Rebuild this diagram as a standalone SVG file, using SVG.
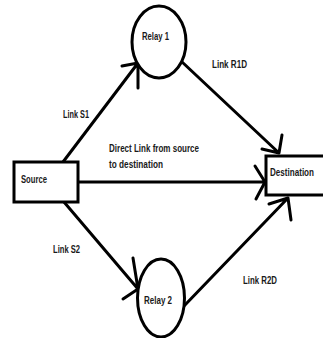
<svg xmlns="http://www.w3.org/2000/svg" width="323" height="338" viewBox="0 0 323 338">
<style>
.shape{fill:#fff;stroke:#000;stroke-width:3}
.edge{fill:none;stroke:#000;stroke-width:3;stroke-linecap:round;stroke-linejoin:round}
text{font-family:"Liberation Sans",Arial,sans-serif;font-size:11px;font-weight:bold;fill:#1a1a1a}
</style>
<rect width="323" height="338" fill="#fff"/>
<g id="connectors">
<path class="edge" d="M63,162 L138,63 M122,66 L138,63 L138,88"/>
<path class="edge" d="M181,61 L279,153 M262,149 L279,153 L282,135"/>
<path class="edge" d="M78,182 L265,182 M255,166 L265,182 L256,199"/>
<path class="edge" d="M64,202 L138,289 M133,258 L138,289 L123,299"/>
<path class="edge" d="M184,306 L288,198 M269,204 L288,198 L291,220"/>
</g>
<g id="source">
<rect class="shape" x="14" y="162" width="64" height="40"/>
<text x="21" y="183" textLength="26" lengthAdjust="spacingAndGlyphs">Source</text>
</g>
<g id="destination">
<rect class="shape" x="266" y="156" width="66" height="39"/>
<text x="270" y="176" textLength="44" lengthAdjust="spacingAndGlyphs">Destination</text>
</g>
<g id="relay1">
<ellipse class="shape" cx="159" cy="42" rx="27" ry="36"/>
<text x="142" y="40" textLength="27" lengthAdjust="spacingAndGlyphs">Relay 1</text>
</g>
<g id="relay2">
<ellipse class="shape" cx="161" cy="298" rx="23.5" ry="39"/>
<text x="144" y="304" textLength="28" lengthAdjust="spacingAndGlyphs">Relay 2</text>
</g>
<g id="labels">
<text x="63" y="118" textLength="26" lengthAdjust="spacingAndGlyphs">Link S1</text>
<text x="212" y="68" textLength="35" lengthAdjust="spacingAndGlyphs">Link R1D</text>
<text x="109" y="152" textLength="90" lengthAdjust="spacingAndGlyphs">Direct Link from source</text>
<text x="109" y="168" textLength="54" lengthAdjust="spacingAndGlyphs">to destination</text>
<text x="53" y="253" textLength="27" lengthAdjust="spacingAndGlyphs">Link S2</text>
<text x="243" y="284" textLength="34" lengthAdjust="spacingAndGlyphs">Link R2D</text>
</g>
</svg>
